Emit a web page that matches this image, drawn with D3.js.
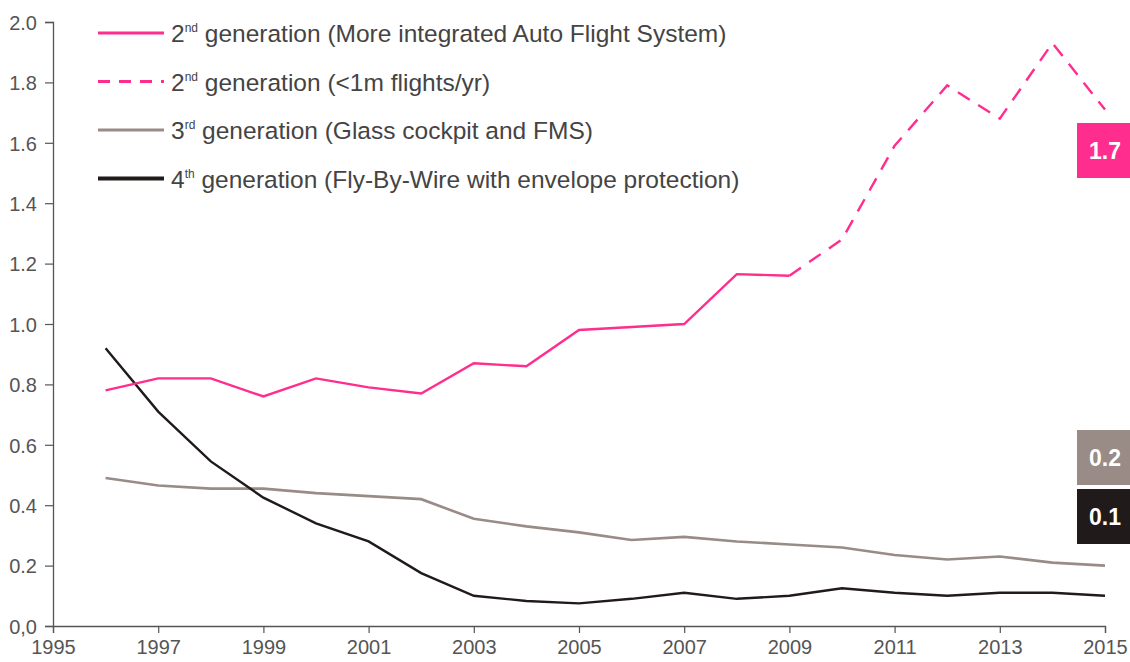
<!DOCTYPE html>
<html>
<head>
<meta charset="utf-8">
<script src="https://cdn.jsdelivr.net/npm/d3@7"></script>
<style>
  body { margin: 0; background: #fff; }
  svg text { font-family: "Liberation Sans", Arial, sans-serif; }
</style>
</head>
<body>
<svg width="1130" height="662"></svg>
<script>
// data
const years = [1996, 1997, 1998, 1999, 2000, 2001, 2002, 2003, 2004, 2005,
               2006, 2007, 2008, 2009, 2010, 2011, 2012, 2013, 2014, 2015];
const gen2 = [0.78, 0.82, 0.82, 0.76, 0.82, 0.79, 0.77, 0.87, 0.86, 0.98,
              0.99, 1.00, 1.165, 1.16, 1.28, 1.59, 1.79, 1.68, 1.93, 1.71];
const gen3 = [0.49, 0.465, 0.455, 0.455, 0.44, 0.43, 0.42, 0.355, 0.33, 0.31,
              0.285, 0.295, 0.28, 0.27, 0.26, 0.235, 0.22, 0.23, 0.21, 0.20];
const gen4 = [0.92, 0.71, 0.545, 0.425, 0.34, 0.28, 0.175, 0.10, 0.083, 0.075,
              0.09, 0.11, 0.09, 0.10, 0.125, 0.11, 0.10, 0.11, 0.11, 0.10];
const solidUntil = 2009; // after this year gen2 is drawn dashed
const xTicks = [1995, 1997, 1999, 2001, 2003, 2005, 2007, 2009, 2011, 2013, 2015];
const yTicks = [0, 0.2, 0.4, 0.6, 0.8, 1.0, 1.2, 1.4, 1.6, 1.8, 2.0];
const legendLabels = [
  ["2", "nd", " generation (More integrated Auto Flight System)"],
  ["2", "nd", " generation (<1m flights/yr)"],
  ["3", "rd", " generation (Glass cockpit and FMS)"],
  ["4", "th", " generation (Fly-By-Wire with envelope protection)"]
];
const endLabels = ["1.7", "0.2", "0.1"];

const pink = "#ff2d8e", grey = "#998b86", black = "#211a1a";

const svg = d3.select("svg");
const x = d3.scaleLinear().domain([1995, 2015]).range([53, 1105]);
const y = d3.scaleLinear().domain([0, 2]).range([626, 22]);

// axes
const yAxis = svg.append("g")
  .attr("transform", `translate(${x(1995)},0)`)
  .call(d3.axisLeft(y).tickValues(yTicks).tickSize(8).tickPadding(8)
    .tickFormat(d => d === 0 ? "0,0" : d3.format(".1f")(d)));
const xAxis = svg.append("g")
  .attr("transform", `translate(0,${y(0)})`)
  .call(d3.axisBottom(x).tickValues(xTicks).tickSize(7).tickPadding(7)
    .tickFormat(d3.format("d")));
[xAxis, yAxis].forEach(a => {
  a.select(".domain").attr("stroke", "#555").attr("stroke-width", 1.3);
  a.selectAll(".tick line").attr("stroke", "#555").attr("stroke-width", 1.2);
  a.selectAll("text").attr("fill", "#555").style("font-size", "20px")
    .style("font-family", "'Liberation Sans', Arial, sans-serif");
});
yAxis.selectAll("text").attr("dy", "0.36em");

// lines
const rows = years.map((yr, i) => ({ yr, g2: gen2[i], g3: gen3[i], g4: gen4[i] }));
const line = key => d3.line().x(d => x(d.yr)).y(d => y(d[key]));

svg.append("path").datum(rows)
  .attr("d", line("g3")).attr("fill", "none")
  .attr("stroke", grey).attr("stroke-width", 2.6);
svg.append("path").datum(rows)
  .attr("d", line("g4")).attr("fill", "none")
  .attr("stroke", black).attr("stroke-width", 2.4);
svg.append("path").datum(rows.filter(d => d.yr <= solidUntil))
  .attr("d", line("g2")).attr("fill", "none")
  .attr("stroke", pink).attr("stroke-width", 2.4);
svg.append("path").datum(rows.filter(d => d.yr >= solidUntil))
  .attr("d", line("g2")).attr("fill", "none")
  .attr("stroke", pink).attr("stroke-width", 2.4)
  .attr("stroke-dasharray", "14,10");

// legend
const legendStyles = [
  { c: pink, dash: null, w: 3 },
  { c: pink, dash: "12,9", w: 3 },
  { c: grey, dash: null, w: 3 },
  { c: black, dash: null, w: 4 }
];
const legend = svg.append("g");
legendLabels.forEach((lab, i) => {
  const ly = 33 + i * 48.5;
  const s = legendStyles[i];
  legend.append("line")
    .attr("x1", 98).attr("x2", 164).attr("y1", ly).attr("y2", ly)
    .attr("stroke", s.c).attr("stroke-width", s.w)
    .attr("stroke-dasharray", s.dash);
  const t = legend.append("text")
    .attr("x", 171).attr("y", ly + 9)
    .attr("fill", "#444").style("font-size", "24.5px");
  t.append("tspan").text(lab[0]);
  t.append("tspan").text(lab[1]).attr("dy", -10).style("font-size", "12px");
  t.append("tspan").text(lab[2]).attr("dy", 10);
});

// end value boxes
const boxes = [
  { txt: endLabels[0], c: pink, top: 123 },
  { txt: endLabels[1], c: grey, top: 430 },
  { txt: endLabels[2], c: black, top: 489 }
];
boxes.forEach(b => {
  svg.append("rect")
    .attr("x", 1077).attr("y", b.top).attr("width", 56).attr("height", 55)
    .attr("fill", b.c);
  svg.append("text")
    .attr("x", 1105).attr("y", b.top + 28).attr("dy", "0.36em")
    .attr("text-anchor", "middle").attr("fill", "#fff")
    .style("font-size", "23px").style("font-weight", "bold")
    .text(b.txt);
});
</script>
</body>
</html>
